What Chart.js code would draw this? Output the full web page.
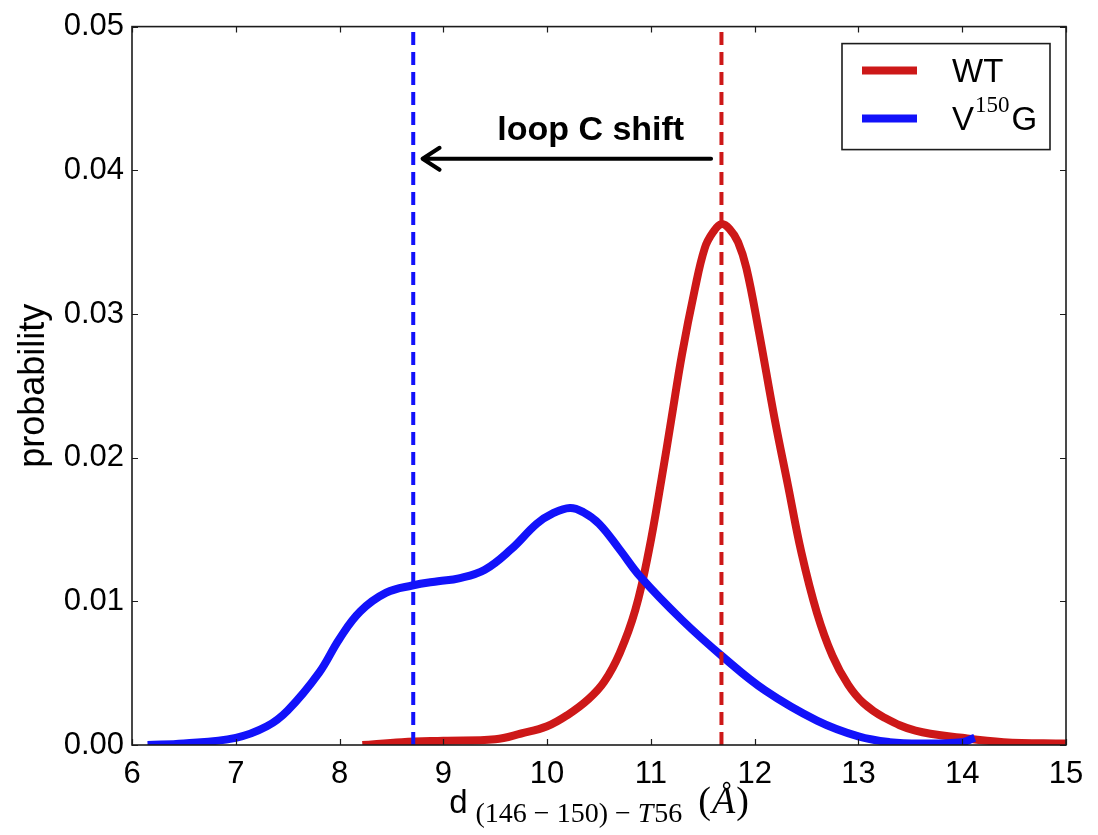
<!DOCTYPE html>
<html>
<head>
<meta charset="utf-8">
<script src="https://cdn.jsdelivr.net/npm/chart.js@4.4.1/dist/chart.umd.min.js"></script>
<style>
  html, body { margin: 0; padding: 0; background: #fff; }
  #wrap { width: 1098px; height: 835px; }
</style>
</head>
<body>
<div id="wrap"><canvas id="kde" width="1098" height="835"></canvas></div>
<script>
// Distance distributions, loop C (146-150) to T56, WT vs V150G
const WT_X = [8.22, 8.6, 9.0, 9.5, 9.75, 10.0, 10.2, 10.4, 10.55, 10.7, 10.85, 10.98, 11.1, 11.2, 11.3, 11.42, 11.52,
              11.6, 11.68, 11.76, 11.84, 11.92, 12.04, 12.19, 12.32, 12.45, 12.6, 12.75, 12.9, 13.05, 13.25, 13.55,
              14.0, 14.4, 15.0];
const WT_Y = [0.0, 0.0002, 0.0003, 0.0004, 0.0008, 0.0013, 0.0021, 0.0032, 0.0044, 0.0064, 0.0094, 0.0135, 0.0184,
              0.0228, 0.0272, 0.0316, 0.0346, 0.0357, 0.03625, 0.0359, 0.0350, 0.0332, 0.0288, 0.0228, 0.0181,
              0.0134, 0.0092, 0.0062, 0.0042, 0.0029, 0.0019, 0.0010, 0.0005, 0.0002, 0.0001];
const MUT_X = [6.15, 6.5, 7.0, 7.3, 7.5, 7.8, 8.0, 8.2, 8.45, 8.7, 8.95, 9.15, 9.4, 9.65, 9.9, 10.05, 10.22, 10.35,
               10.5, 10.7, 10.9, 11.3, 11.7, 12.1, 12.6, 13.0, 13.3, 13.6, 14.0, 14.12];
const MUT_Y = [0.0, 0.0001, 0.0005, 0.0013, 0.0024, 0.0050, 0.0074, 0.0093, 0.0106, 0.0111, 0.0114, 0.0116, 0.0122,
               0.0136, 0.0154, 0.0161, 0.0165, 0.0162, 0.0154, 0.0136, 0.0117, 0.0087, 0.0061, 0.0038, 0.0017,
               0.0006, 0.0002, 0.0001, 0.0002, 0.0005];
const WT_PEAK = 11.68;
const MUT_PEAK = 8.71;
const SHIFT_LABEL = 'loop C shift';
const LEGEND_LABELS = ['WT', 'V', '150', 'G'];
const X_TICKS = [6, 7, 8, 9, 10, 11, 12, 13, 14, 15];
const Y_TICKS = [0, 0.01, 0.02, 0.03, 0.04, 0.05];

const RED = 'rgb(205,24,24)';
const BLUE = 'rgb(18,18,250)';
const SANS = '"Liberation Sans", Arial, Helvetica, sans-serif';
const SERIF = '"Liberation Serif", "DejaVu Serif", serif';

function pts(xs, ys) { return xs.map((x, i) => ({ x, y: ys[i] })); }

// box + inward ticks on all four sides
const framePlugin = {
  id: 'frame',
  afterDatasetsDraw(chart) {
    const { ctx, chartArea: a, scales: { x, y } } = chart;
    ctx.save();
    ctx.strokeStyle = '#1c1c1c';
    ctx.lineWidth = 1.2;
    ctx.beginPath();
    X_TICKS.forEach(v => {
      const px = Math.round(x.getPixelForValue(v)) + 0.5;
      ctx.moveTo(px, a.bottom); ctx.lineTo(px, a.bottom - 6);
      ctx.moveTo(px, a.top); ctx.lineTo(px, a.top + 6);
    });
    Y_TICKS.forEach(v => {
      const py = Math.round(y.getPixelForValue(v)) + 0.5;
      ctx.moveTo(a.left, py); ctx.lineTo(a.left + 6, py);
      ctx.moveTo(a.right, py); ctx.lineTo(a.right - 6, py);
    });
    ctx.stroke();
    ctx.lineWidth = 1.6;
    ctx.strokeRect(a.left, a.top, a.right - a.left, a.bottom - a.top);
    ctx.restore();
  }
};

// arrow + "loop C shift" text
const shiftPlugin = {
  id: 'shift',
  afterDatasetsDraw(chart) {
    const { ctx, scales: { x, y } } = chart;
    const x0 = x.getPixelForValue(WT_PEAK - 0.1);
    const x1 = x.getPixelForValue(MUT_PEAK + 0.09);
    const py = y.getPixelForValue(0.0408);
    ctx.save();
    ctx.strokeStyle = '#000';
    ctx.lineWidth = 4;
    ctx.lineCap = 'round';
    ctx.lineJoin = 'round';
    ctx.beginPath();
    ctx.moveTo(x0, py); ctx.lineTo(x1, py);
    ctx.moveTo(x1 + 17, py - 11); ctx.lineTo(x1, py); ctx.lineTo(x1 + 17, py + 11);
    ctx.stroke();
    ctx.fillStyle = '#000';
    ctx.font = 'bold 34px ' + SANS;
    ctx.textAlign = 'center';
    ctx.textBaseline = 'alphabetic';
    ctx.fillText(SHIFT_LABEL, x.getPixelForValue(10.42), y.getPixelForValue(0.0421));
    ctx.restore();
  }
};

// legend box in the upper right corner
const legendPlugin = {
  id: 'mylegend',
  afterDraw(chart) {
    const { ctx, chartArea: a } = chart;
    const r = a.right - 16, t = a.top + 17, w = 208, h = 106;
    const l = r - w;
    ctx.save();
    ctx.fillStyle = '#fff';
    ctx.fillRect(l, t, w, h);
    ctx.strokeStyle = '#1c1c1c';
    ctx.lineWidth = 1.6;
    ctx.strokeRect(l, t, w, h);
    ctx.lineWidth = 8;
    ctx.lineCap = 'butt';
    ctx.strokeStyle = RED;
    ctx.beginPath(); ctx.moveTo(l + 20, t + 27); ctx.lineTo(l + 75, t + 27); ctx.stroke();
    ctx.strokeStyle = BLUE;
    ctx.beginPath(); ctx.moveTo(l + 20, t + 75); ctx.lineTo(l + 75, t + 75); ctx.stroke();
    ctx.fillStyle = '#000';
    ctx.textAlign = 'left';
    ctx.textBaseline = 'alphabetic';
    ctx.font = '33px ' + SANS;
    ctx.fillText(LEGEND_LABELS[0], l + 110, t + 38);
    let cx = l + 110;
    ctx.fillText(LEGEND_LABELS[1], cx, t + 86);
    cx += ctx.measureText(LEGEND_LABELS[1]).width + 1;
    ctx.font = '23px ' + SERIF;
    ctx.fillText(LEGEND_LABELS[2], cx, t + 68);
    cx += ctx.measureText(LEGEND_LABELS[2]).width + 2;
    ctx.font = '33px ' + SANS;
    ctx.fillText(LEGEND_LABELS[3], cx, t + 86);
    ctx.restore();
  }
};

// x axis title with subscript and angstrom, drawn piece by piece
const xTitlePlugin = {
  id: 'xtitle',
  afterDraw(chart) {
    const { ctx, chartArea: a } = chart;
    const parts = [
      { t: 'd', font: '33px ' + SANS, dy: 0 },
      { t: '(146 \u2212 150) \u2212 ', font: '28px ' + SERIF, dy: 9, gap: 8 },
      { t: 'T', font: 'italic 28px ' + SERIF, dy: 9 },
      { t: '56', font: '28px ' + SERIF, dy: 9, gap: 1 },
      { t: '(', font: '38px ' + SERIF, dy: 0, gap: 16 },
      { t: 'Å', font: 'italic 38px ' + SERIF, dy: 0, gap: 1 },
      { t: ')', font: '38px ' + SERIF, dy: 0, gap: 1 }
    ];
    ctx.save();
    let total = 0;
    parts.forEach(p => { ctx.font = p.font; p.w = ctx.measureText(p.t).width; total += p.w + (p.gap || 0); });
    let cx = (a.left + a.right) / 2 - total / 2;
    const base = a.bottom + 68;
    ctx.fillStyle = '#000';
    ctx.textAlign = 'left';
    ctx.textBaseline = 'alphabetic';
    parts.forEach(p => {
      cx += p.gap || 0;
      ctx.font = p.font;
      ctx.fillText(p.t, cx, base + p.dy);
      cx += p.w;
    });
    ctx.restore();
  }
};

const lineStyle = (color) => ({
  borderColor: color, backgroundColor: color, borderWidth: 8, pointRadius: 0,
  fill: false, tension: 0.4, clip: 0
});

new Chart(document.getElementById('kde'), {
  type: 'line',
  data: {
    datasets: [
      { label: 'WT', data: pts(WT_X, WT_Y), ...lineStyle(RED), order: 2 },
      { label: 'V150G', data: pts(MUT_X, MUT_Y), ...lineStyle(BLUE), order: 1 },
      { label: 'WT mode', data: [{ x: WT_PEAK, y: 0 }, { x: WT_PEAK, y: 0.05 }], borderColor: RED,
        borderWidth: 4, borderDash: [13, 7], pointRadius: 0, order: 0 },
      { label: 'V150G mode', data: [{ x: MUT_PEAK, y: 0 }, { x: MUT_PEAK, y: 0.05 }], borderColor: BLUE,
        borderWidth: 4, borderDash: [13, 7], pointRadius: 0, order: 0 }
    ]
  },
  options: {
    responsive: false,
    animation: false,
    events: [],
    layout: { padding: { top: 25, right: 32, left: 0, bottom: 0 } },
    plugins: { legend: { display: false }, tooltip: { enabled: false } },
    scales: {
      x: {
        type: 'linear', min: 6, max: 15,
        afterBuildTicks: s => { s.ticks = X_TICKS.map(v => ({ value: v })); },
        afterFit: s => { s.height = 90; },
        grid: { display: false, drawTicks: false },
        border: { display: false },
        ticks: { color: '#000', padding: 11, font: { family: SANS, size: 31 }, maxRotation: 0 }
      },
      y: {
        min: 0, max: 0.05,
        afterBuildTicks: s => { s.ticks = Y_TICKS.map(v => ({ value: v })); },
        afterFit: s => { s.width = 132; },
        grid: { display: false, drawTicks: false },
        border: { display: false },
        ticks: { color: '#000', padding: 8, font: { family: SANS, size: 31 }, callback: v => v.toFixed(2) },
        title: { display: true, text: 'probability', color: '#000', padding: { top: 12, bottom: 0 },
                 font: { family: SANS, size: 36 } }
      }
    }
  },
  plugins: [framePlugin, shiftPlugin, legendPlugin, xTitlePlugin]
});
</script>
</body>
</html>
